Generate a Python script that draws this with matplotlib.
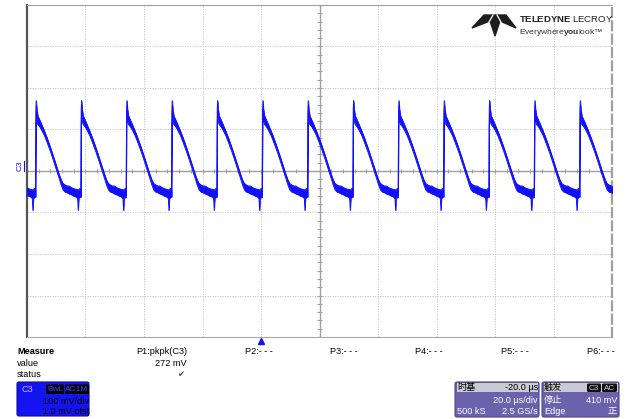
import numpy as np
import matplotlib
matplotlib.use('Agg')
import matplotlib.pyplot as plt
from matplotlib.patches import FancyBboxPatch, Rectangle, Polygon

# ==========================================
# DATI (letti dallo schermo dell'oscilloscopio)
# ==========================================
time_range_us = (-80, 120)        # 20 us/div, 10 div, delay -20 us
volt_range_mv = (-400, 400)       # 100 mV/div, 8 div

period_us = 15.5                  # distanza tra due fronti di salita
first_edge_us = -77.1             # primo fronte visibile
cycle_index = list(range(-1, 13))

# una forma d'onda (tempo dal fronte, inviluppo alto / basso in mV)
cycle_t = [0.0, 0.12, 0.25, 0.45, 0.8, 1.3, 2.0, 3.0, 4.0, 5.0, 6.0, 7.0, 8.0,
           8.8, 9.4, 10.0, 10.8, 11.5, 12.3, 13.0, 13.8, 14.4, 14.6, 14.8, 15.2, 15.5]
cycle_hi = [-45, 150, 170, 150, 133, 125, 114, 97, 79, 59, 38, 16, -6,
            -22, -30, -33, -36, -36, -40, -42, -44, -45, -48, -44, -42, -45]
cycle_lo = [-62, 110, 145, 120, 112, 108, 100, 86, 68, 49, 28, 6, -16,
            -34, -45, -50, -52, -55, -57, -60, -62, -66, -95, -66, -63, -62]

# testi del pannello misure
param_names = ['P1:pkpk(C3)', 'P2:- - -', 'P3:- - -', 'P4:- - -', 'P5:- - -', 'P6:- - -']
param_x = [187, 245, 330, 415, 501, 587]
p1_value = '272 mV'

W, H = 627, 419
TRACE = '#1010ff'


def disegna_schermo():
    plt.rcParams['font.family'] = ['Liberation Sans', 'Noto Sans CJK SC', 'DejaVu Sans']
    plt.rcParams['mathtext.fontset'] = 'custom'
    plt.rcParams['mathtext.rm'] = 'Liberation Sans'
    plt.rcParams['mathtext.bf'] = 'Liberation Sans:bold'
    fig = plt.figure(figsize=(W / 100, H / 100), dpi=100)

    # ==========================================
    # 1. GRIGLIA
    # ==========================================
    ax = fig.add_axes([27 / W, (H - 337) / H, 585 / W, 332 / H])
    ax.set_xlim(*time_range_us)
    ax.set_ylim(*volt_range_mv)
    ax.set_xticks([])
    ax.set_yticks([])

    for x in np.arange(-60, 120, 20):
        if x != 20:
            ax.axvline(x, color='#c2c2c2', lw=0.6, ls=(0, (1.5, 1.5)), zorder=1)
    for y in np.arange(-300, 400, 100):
        if y != 0:
            ax.axhline(y, color='#c2c2c2', lw=0.6, ls=(0, (1.5, 1.5)), zorder=1)

    # assi centrali con tacche
    ax.axvline(20, color='#a0a0a0', lw=1.0, zorder=1)
    ax.axhline(0, color='#a0a0a0', lw=1.0, zorder=1)
    ax.vlines(np.arange(-80, 121, 4), -6, 6, color='#a0a0a0', lw=0.8, zorder=1)
    ax.hlines(np.arange(-400, 401, 20), 20 - 0.9, 20 + 0.9, color='#a0a0a0', lw=0.8, zorder=1)

    ax.spines['left'].set_color('#555555')
    ax.spines['left'].set_linewidth(1.6)
    ax.spines['right'].set_color('#a0a0a0')
    ax.spines['right'].set_linewidth(1.6)
    ax.spines['right'].set_linestyle((0, (4, 2)))
    ax.spines['top'].set_color('#a0a0a0')
    ax.spines['bottom'].set_color('#a8a8a8')

    # ==========================================
    # 2. TRACCIA C3
    # ==========================================
    t0 = np.array(cycle_t)
    for k in cycle_index:
        t = t0 + first_edge_us + k * period_us
        ax.fill_between(t, cycle_lo, cycle_hi, color=TRACE, lw=0.4, zorder=3)
        ax.plot(t, cycle_hi, color=TRACE, lw=0.6, zorder=3)
        ax.plot(t, cycle_lo, color=TRACE, lw=0.6, zorder=3)

    # marcatore del trigger
    ax.plot([0], [-0.012], marker='^', color=TRACE, ms=5,
            transform=ax.get_xaxis_transform(), clip_on=False, zorder=5)

    # ==========================================
    # 3. PANNELLO (coordinate in pixel)
    # ==========================================
    ov = fig.add_axes([0, 0, 1, 1], zorder=10)
    ov.set_xlim(0, W)
    ov.set_ylim(H, 0)
    ov.axis('off')

    # etichetta canale a sinistra
    ov.text(20, 166, 'C3', rotation=90, color=TRACE, fontsize=6, ha='center', va='center')
    ov.plot([23.5, 23.5], [161, 171], color=TRACE, lw=0.8)

    # logo
    ov.add_patch(Polygon([(472, 28), (484, 15), (506, 15), (516, 28), (500, 21),
                          (495, 36), (490, 21)], closed=True, color='#1e1e1e'))
    ov.plot([493, 489], [15, 22], color='white', lw=0.9)
    ov.plot([497, 501], [15, 22], color='white', lw=0.9)
    ov.text(519, 19, r'$\mathbf{TELEDYNE}$ LECROY', fontsize=6.8, color='#222222',
            ha='left', va='center')
    ov.text(519, 32, 'Everywhere$\\mathbf{you}$look\u2122', fontsize=6.0, color='#333333',
            ha='left', va='center')

    # misure
    fs = 6.6
    ov.text(17, 351, 'Measure', fontsize=fs, fontweight='bold', va='center')
    ov.text(17, 363, 'value', fontsize=fs, va='center')
    ov.text(17, 374, 'status', fontsize=fs, va='center')
    ov.text(param_x[0], 351, param_names[0], fontsize=fs, ha='right', va='center')
    ov.text(param_x[0], 363, p1_value, fontsize=fs, ha='right', va='center')
    ov.text(181, 374, '\u2714', fontsize=6, ha='center', va='center', color='#444444',
            family=['DejaVu Sans'])
    for name, x in zip(param_names[1:], param_x[1:]):
        ov.text(x, 351, name, fontsize=fs, ha='left', va='center')

    # riquadro canale C3
    ov.add_patch(FancyBboxPatch((17, 382), 72, 34, boxstyle='round,pad=0,rounding_size=2',
                                fc='#1414f0', ec='#0a0aa0', lw=0.8))
    ov.text(21, 389, 'C3', fontsize=fs, color='#b8b8ff', va='center')
    for lab, x0, x1 in [('BwL', 46, 64), ('AC1M', 65, 89)]:
        ov.add_patch(FancyBboxPatch((x0, 384.5), x1 - x0, 9.5,
                                    boxstyle='round,pad=0,rounding_size=1.5', fc='#000000', ec='none'))
        ov.text((x0 + x1) / 2, 389.5, lab, fontsize=6, color='#4040ff', ha='center', va='center')
    ov.text(89, 401, '100 mV/div', fontsize=fs, ha='right', va='center', color='black')
    ov.text(89, 411, '1.0 mV ofst', fontsize=fs, ha='right', va='center', color='black')

    # riquadri base tempi e trigger
    for x0, x1 in [(455, 539), (542, 619)]:
        ov.add_patch(FancyBboxPatch((x0, 382), x1 - x0, 35, boxstyle='round,pad=0,rounding_size=2',
                                    fc='#6a62aa', ec='#4a4490', lw=0.8))
        ov.add_patch(Rectangle((x0 + 1.5, 383), x1 - x0 - 3, 9, fc='#cacad2', ec='none'))

    ov.text(457, 387.5, '时基', fontsize=fs, va='center', color='black')
    ov.text(538, 387.5, '-20.0 µs', fontsize=fs, ha='right', va='center', color='black')
    ov.text(538, 400, '20.0 µs/div', fontsize=fs, ha='right', va='center', color='white')
    ov.text(457, 411, '500 kS', fontsize=fs, va='center', color='white')
    ov.text(538, 411, '2.5 GS/s', fontsize=fs, ha='right', va='center', color='white')

    ov.text(544, 387.5, '触发', fontsize=fs, va='center', color='black')
    for lab, x0, x1 in [('C3', 587, 601), ('AC', 602, 617)]:
        ov.add_patch(FancyBboxPatch((x0, 383.5), x1 - x0, 8.5,
                                    boxstyle='round,pad=0,rounding_size=1.5', fc='#111111', ec='none'))
        ov.text((x0 + x1) / 2, 388, lab, fontsize=5.8, color='#d0d0d0', ha='center', va='center')
    ov.text(544, 400, '停止', fontsize=fs, va='center', color='white')
    ov.text(617, 400, '410 mV', fontsize=fs, ha='right', va='center', color='white')
    ov.text(544, 411, 'Edge', fontsize=fs, va='center', color='white')
    ov.text(617, 411, '正', fontsize=fs, ha='right', va='center', color='white')

    plt.savefig('out.png', dpi=100)


if __name__ == '__main__':
    disegna_schermo()
